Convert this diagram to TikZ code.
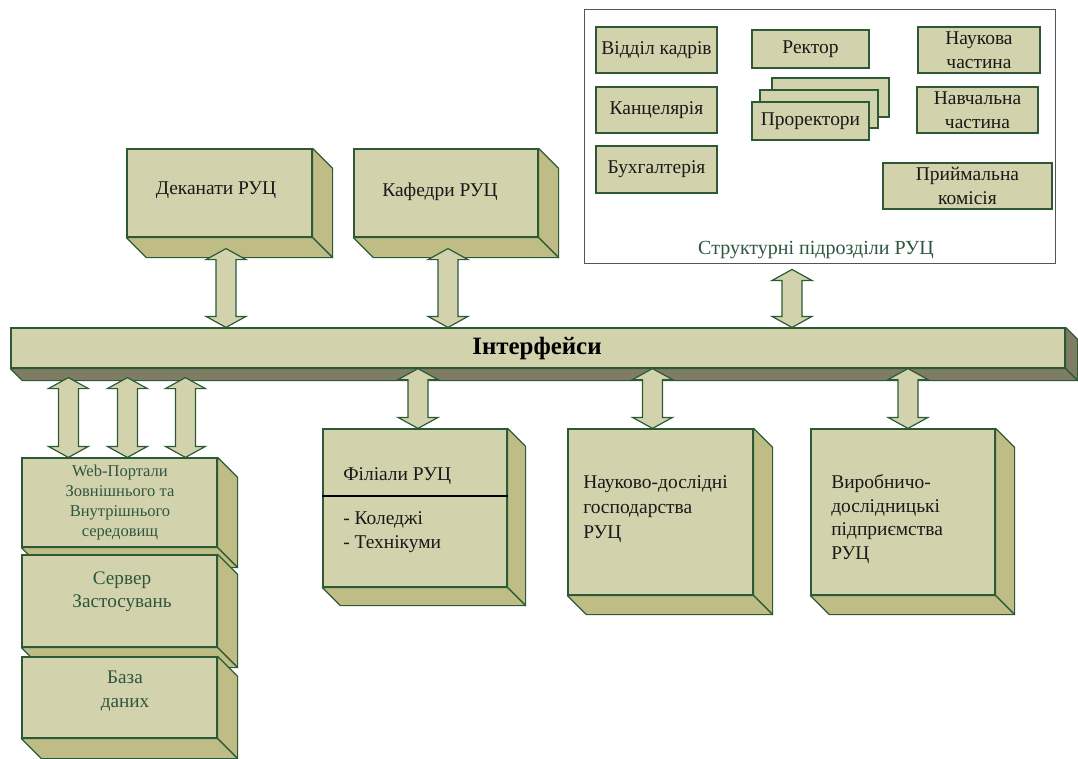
\documentclass[tikz,border=0pt]{standalone}
\usepackage{fontspec}
\setmainfont{Liberation Serif}
\usetikzlibrary{calc,fit}

\definecolor{khaki}{HTML}{D2D3AC}
\definecolor{khakidark}{HTML}{BFBD85}
\definecolor{olivegray}{HTML}{7E7D64}
\definecolor{edge}{HTML}{2C5A36}
\definecolor{labelgreen}{HTML}{2E5540}
\definecolor{panelline}{HTML}{555555}

\tikzset{
  frontface/.style={draw=edge, fill=khaki, line width=0.9pt, inner sep=0pt},
  sideface/.style={draw=edge, fill=khakidark, line width=0.9pt, line join=round},
  barface/.style={draw=edge, fill=olivegray, line width=0.9pt, line join=round},
  flatbox/.style={draw=edge, fill=khaki, line width=0.8pt, inner sep=0pt},
  panelbox/.style={draw=panelline, line width=0.7pt, inner sep=0pt},
  blockarrow/.style={draw=edge, fill=khaki, line width=0.9pt, line join=miter},
  boxtext/.style={font=\fontsize{14.6}{18}\selectfont, text=black!90, inner sep=0pt},
  stacktext/.style={font=\fontsize{12.4}{15}\selectfont, text=labelgreen, align=center, inner sep=0pt},
  stackbig/.style={font=\fontsize{14.4}{17.5}\selectfont, text=labelgreen, align=center, inner sep=0pt},
  listtext/.style={boxtext, align=left, anchor=west},
  titletext/.style={font=\fontsize{18.7}{22}\selectfont\bfseries, text=black, inner sep=0pt},
  paneltext/.style={font=\fontsize{15}{18}\selectfont, text=labelgreen, inner sep=0pt},
}

% 3D block: front face as a named node, then its right and lower faces
% #1 name, #2,#3 top-left, #4,#5 bottom-right, #6 depth, #7 style of the side faces
\newcommand\solidbox[7]{%
  \node[frontface, fit={(#2,#3)(#4,#5)}] (#1) {};
  \filldraw[#7] (#1.north east) -- ++(#6,#6) -- ($(#1.south east)+(#6,#6)$) -- (#1.south east) -- cycle;
  \filldraw[#7] (#1.south west) -- (#1.south east) -- ++(#6,#6) -- ($(#1.south west)+(#6,#6)$) -- cycle;
}

% vertical double block arrow between two named coordinates (upper tip, lower tip)
\newcommand\dblarrow[2]{%
  \draw[blockarrow] (#1) -- ($(#1)+(20,11)$) -- ($(#1)+(10,11)$) -- ($(#2)+(10,-11)$)
    -- ($(#2)+(20,-11)$) -- (#2) -- ($(#2)+(-20,-11)$) -- ($(#2)+(-10,-11)$)
    -- ($(#1)+(-10,11)$) -- ($(#1)+(-20,11)$) -- cycle;
}

\begin{document}
\begin{tikzpicture}[x=0.75pt,y=-0.75pt]
\useasboundingbox (0,0) rectangle (1078,758);

% ---- structural units panel ----
\node[panelbox, fit={(584,9)(1055,263)}] (panel) {};
\node[paneltext] (paneltx) at (816,250) {Структурні підрозділи РУЦ};

\node[flatbox, fit={(596,27)(717,73)}] (vk) {};
\node[boxtext] (vktx) at (vk.center) {Відділ кадрів};
\node[flatbox, fit={(596,87)(717,133)}] (kan) {};
\node[boxtext] (kantx) at (kan.center) {Канцелярія};
\node[flatbox, fit={(596,146)(717,193)}] (bukh) {};
\node[boxtext] (bukhtx) at (bukh.center) {Бухгалтерія};
\node[flatbox, fit={(752,30)(869,68)}] (rek) {};
\node[boxtext] (rektx) at (rek.center) {Ректор};
\node[flatbox, fit={(772,78)(889,117)}] (pr3) {};
\node[flatbox, fit={(760,90)(878,128)}] (pr2) {};
\node[flatbox, fit={(752,102)(869,140)}] (pr1) {};
\node[boxtext] (prtx) at (pr1.center) {Проректори};
\node[flatbox, fit={(918,27)(1040,73)}] (nauk) {};
\node[boxtext, align=center] (nauktx) at (nauk.center) {Наукова\\частина};
\node[flatbox, fit={(917,87)(1038,133)}] (navch) {};
\node[boxtext, align=center] (navchtx) at (navch.center) {Навчальна\\частина};
\node[flatbox, fit={(883,163)(1052,209)}] (pryim) {};
\node[boxtext, align=center] (pryimtx) at (pryim.center) {Приймальна\\комісія};

% ---- upper blocks ----
\solidbox{dek}{127}{149}{312}{237}{20}{sideface}
\node[boxtext] (dektx) at (216,190) {Деканати РУЦ};
\solidbox{kaf}{354}{149}{538}{237}{20}{sideface}
\node[boxtext] (kaftx) at (440,192) {Кафедри РУЦ};

% ---- interface bus ----
\solidbox{bar}{11}{328}{1065}{368}{12}{barface}
\node[titletext] (bartx) at (537,348) {Інтерфейси};

% ---- lower blocks ----
\solidbox{fil}{323}{429}{507}{587}{18}{sideface}
\draw[black, line width=1pt] (fil.west |- 0,496) -- (fil.east |- 0,496);
\node[listtext] (filtx) at (343,476) {Філіали РУЦ};
\node[listtext] (fillist) at (343,532) {- Коледжі\\- Технікуми};

\solidbox{nd}{568}{429}{753}{595}{19}{sideface}
\node[listtext, font=\fontsize{14.6}{18.5}\selectfont] (ndtx) at (583,509) {Науково-дослідні\\господарства\\РУЦ};
\solidbox{vd}{811}{429}{995}{595}{19}{sideface}
\node[listtext, font=\fontsize{14.6}{17.6}\selectfont] (vdtx) at (831,519) {Виробничо-\\дослідницькі\\підприємства\\РУЦ};

% ---- server stack ----
\solidbox{web}{22}{458}{217}{547}{20}{sideface}
\node[stacktext] (webtx) at (120,503) {Web-Портали\\Зовнішнього та\\Внутрішнього\\середовищ};
\solidbox{srv}{22}{555}{217}{647}{20}{sideface}
\node[stackbig] (srvtx) at (122,592) {Сервер\\Застосувань};
\solidbox{db}{22}{657}{217}{738}{20}{sideface}
\node[stackbig] (dbtx) at (125,691) {База\\даних};

% ---- connectors ----
\coordinate (dekA) at ($(dek.south)+(6.5,11)$);
\coordinate (dekB) at (dekA |- bar.north);
\dblarrow{dekA}{dekB}
\coordinate (kafA) at ($(kaf.south)+(2,11)$);
\coordinate (kafB) at (kafA |- bar.north);
\dblarrow{kafA}{kafB}
\coordinate (panA) at ($(panel.south)+(-27.5,6)$);
\coordinate (panB) at (panA |- bar.north);
\dblarrow{panA}{panB}

\coordinate (w1A) at ($(bar.south west)+(58,9)$);
\coordinate (w1B) at (w1A |- web.north);
\dblarrow{w1A}{w1B}
\coordinate (w2A) at ($(bar.south west)+(117,9)$);
\coordinate (w2B) at (w2A |- web.north);
\dblarrow{w2A}{w2B}
\coordinate (w3A) at ($(bar.south west)+(175,9)$);
\coordinate (w3B) at (w3A |- web.north);
\dblarrow{w3A}{w3B}

\coordinate (filB) at ($(fil.north)+(3,0)$);
\coordinate (filA) at (filB |- bar.south);
\dblarrow{filA}{filB}
\coordinate (ndB) at ($(nd.north)+(-8,0)$);
\coordinate (ndA) at (ndB |- bar.south);
\dblarrow{ndA}{ndB}
\coordinate (vdB) at ($(vd.north)+(5,0)$);
\coordinate (vdA) at (vdB |- bar.south);
\dblarrow{vdA}{vdB}
\end{tikzpicture}
\end{document}
